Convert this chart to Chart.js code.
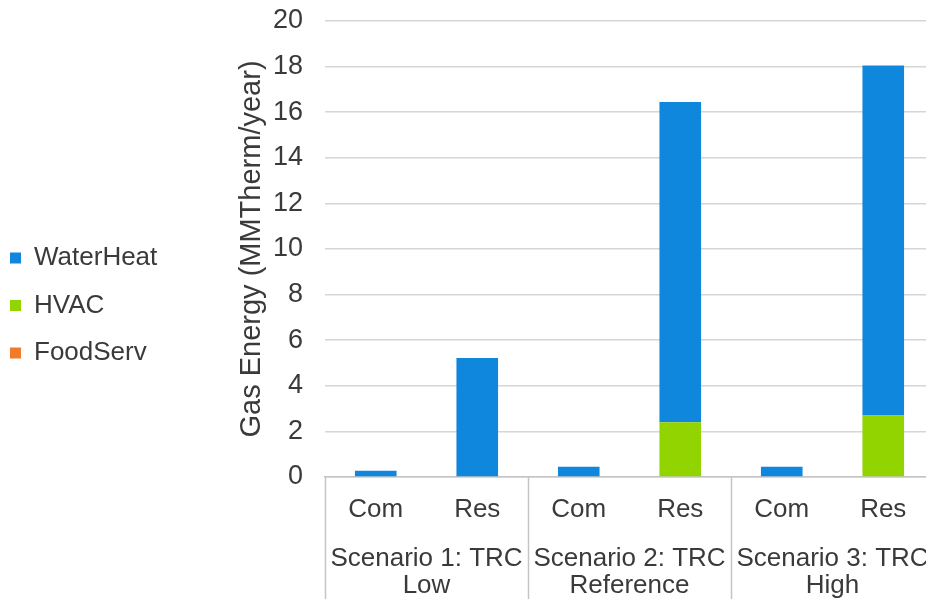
<!DOCTYPE html>
<html>
<head>
<meta charset="utf-8">
<script src="https://cdn.jsdelivr.net/npm/chart.js@4/dist/chart.umd.min.js"></script>
<style>
  html, body { margin: 0; padding: 0; background: #ffffff; overflow: hidden; }
  #wrap { width: 936px; height: 599px; }
</style>
</head>
<body>
<div id="wrap"><canvas id="chart" width="936" height="599"></canvas></div>
<script>
// Sector within each scenario
const categories = ['Com', 'Res', 'Com', 'Res', 'Com', 'Res'];
// Scenario groups, two sectors each
const scenarioLabels = [
  ['Scenario 1: TRC', 'Low'],
  ['Scenario 2: TRC', 'Reference'],
  ['Scenario 3: TRC', 'High']
];
// Gas savings by end use (MMTherm/year)
const foodServ  = [0, 0, 0, 0, 0, 0];
const hvac      = [0, 0, 0, 2.4, 0, 2.7];
const waterHeat = [0.27, 5.22, 0.45, 14.05, 0.45, 15.35];
// Value axis
const yMin = 0, yMax = 20, yStep = 2;

const FONT = "'Liberation Sans', Arial, sans-serif";
const TEXT = '#3a3a3a';
const GRID = '#d6d6d6';

// Vertical dividers between scenario groups, running through the label area
const groupDividers = {
  id: 'groupDividers',
  afterDraw(chart) {
    const g = chart.scales.x2;
    const ctx = chart.ctx;
    ctx.save();
    ctx.strokeStyle = '#c4c4c4';
    ctx.lineWidth = 1.5;
    for (let k = 0; k <= scenarioLabels.length; k++) {
      const px = Math.round(g.getPixelForValue(k - 0.5)) + 0.5;
      ctx.beginPath();
      ctx.moveTo(px, chart.chartArea.bottom);
      ctx.lineTo(px, chart.height);
      ctx.stroke();
    }
    ctx.restore();
  }
};

// keep category labels from adding side padding to the plot area
function noSidePadding(s) { s.paddingLeft = 0; s.paddingRight = 0; }

new Chart(document.getElementById('chart'), {
  type: 'bar',
  data: {
    labels: categories,
    datasets: [
      { label: 'FoodServ',  data: foodServ,  backgroundColor: '#f07c2a' },
      { label: 'HVAC',      data: hvac,      backgroundColor: '#92d400' },
      { label: 'WaterHeat', data: waterHeat, backgroundColor: '#0f87dc' }
    ]
  },
  options: {
    responsive: false,
    animation: false,
    devicePixelRatio: 1,
    layout: { padding: { left: -11.5, top: 12, right: 2, bottom: 0 } },
    datasets: { bar: { barPercentage: 0.41, categoryPercentage: 1, borderWidth: 0 } },
    plugins: {
      legend: {
        position: 'left',
        reverse: true,
        labels: {
          boxWidth: 11,
          boxHeight: 11,
          padding: 21.5,
          color: TEXT,
          font: { family: FONT, size: 26 }
        }
      },
      tooltip: { enabled: false }
    },
    scales: {
      y: {
        stacked: true,
        min: yMin,
        max: yMax,
        ticks: {
          stepSize: yStep,
          padding: 22,
          color: TEXT,
          font: { family: FONT, size: 27 }
        },
        grid: { color: GRID, lineWidth: 1.5, drawTicks: false },
        border: { display: false },
        title: {
          display: true,
          text: 'Gas Energy (MMTherm/year)',
          color: TEXT,
          font: { family: FONT, size: 29 },
          padding: { top: 67, bottom: 0 }
        },
        afterFit(s) {
          const lg = s.chart.legend;
          s.width = 336.5 - (lg && lg.width ? lg.width : 0);
          s.paddingTop = 21;
          s.paddingBottom = 0;
        }
      },
      x: {
        stacked: true,
        weight: 0,
        offset: true,
        grid: { display: false, drawTicks: false },
        border: { display: true, color: '#c4c4c4', width: 1.5 },
        ticks: {
          padding: 19,
          maxRotation: 0,
          autoSkip: false,
          color: TEXT,
          font: { family: FONT, size: 26, lineHeight: 1.1 }
        },
        afterFit(s) { s.height = 42; noSidePadding(s); }
      },
      x2: {
        type: 'category',
        position: 'bottom',
        weight: 1,
        labels: scenarioLabels,
        offset: true,
        grid: { display: false, drawTicks: false },
        border: { display: false },
        ticks: {
          padding: 26,
          maxRotation: 0,
          autoSkip: false,
          color: TEXT,
          font: { family: FONT, size: 26, lineHeight: 1.05 }
        },
        afterFit(s) { s.height = 80; noSidePadding(s); }
      }
    }
  },
  plugins: [groupDividers]
});
</script>
</body>
</html>
